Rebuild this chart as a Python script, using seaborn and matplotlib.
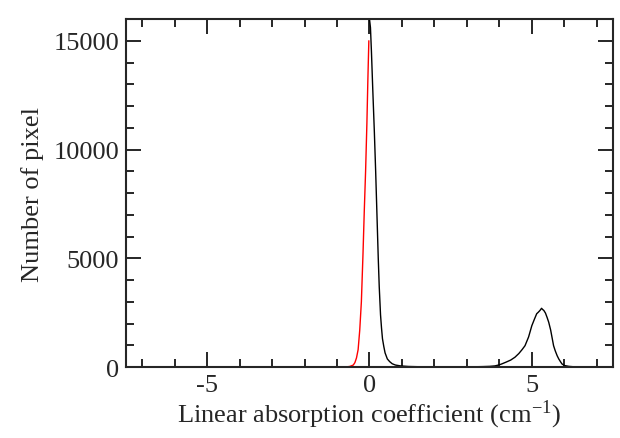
import pandas as pd
import matplotlib.pyplot as plt
import seaborn as sns
from matplotlib.ticker import MultipleLocator

# Values
red_x = [-7.5, -1.0, -0.7, -0.6, -0.5, -0.45, -0.4, -0.35, -0.3, -0.25, -0.2,
         -0.16, -0.12, -0.08, -0.05, -0.02]
red_y = [0, 0, 5, 30, 90, 200, 420, 800, 1700, 3000, 5200,
         7200, 9000, 11200, 13200, 15000]

black_x = [0.0, 0.03, 0.06, 0.1, 0.15, 0.19, 0.23, 0.27, 0.3, 0.34, 0.37, 0.4,
           0.44, 0.48, 0.55, 0.62, 0.7, 0.8, 0.96, 1.2, 1.6, 2.2, 2.8, 3.2, 3.5,
           3.7, 3.86, 4.0, 4.07, 4.2, 4.35, 4.48, 4.6, 4.7, 4.79, 4.9, 5.0, 5.08,
           5.15, 5.2, 5.25, 5.3, 5.33, 5.37, 5.42, 5.47, 5.52, 5.58, 5.63, 5.67,
           5.72, 5.78, 5.83, 5.88, 5.93, 6.0, 6.14, 6.3, 6.6, 7.0, 7.5]
black_y = [16000, 15600, 14500, 12800, 10800, 9000, 7000, 5000, 3700, 2400,
           1800, 1300, 950, 650, 370, 250, 150, 90, 50, 25, 10, 5, 5, 10, 20,
           30, 50, 100, 140, 220, 320, 450, 620, 800, 980, 1380, 1900, 2200,
           2450, 2520, 2600, 2700, 2650, 2600, 2480, 2280, 2060, 1700, 1300,
           980, 750, 520, 370, 250, 140, 70, 30, 10, 5, 0, 0]

x_ticks = [-5, 0, 5]
y_ticks = [0, 5000, 10000, 15000]

red = pd.DataFrame({"x": red_x, "y": red_y})
black = pd.DataFrame({"x": black_x, "y": black_y})

sns.set_style("ticks")
plt.rcParams["font.family"] = ["Liberation Serif", "DejaVu Serif"]
plt.rcParams["mathtext.fontset"] = "stix"

fig = plt.figure(figsize=(6.2, 4.39), dpi=100)
ax = fig.add_axes([0.2032, 0.1617, 0.7855, 0.7927])

sns.lineplot(data=red, x="x", y="y", color="red", linewidth=1.0, ax=ax,
             sort=False, estimator=None)
sns.lineplot(data=black, x="x", y="y", color="black", linewidth=1.0, ax=ax,
             sort=False, estimator=None)

ax.set_xlim(-7.5, 7.5)
ax.set_ylim(0, 16000)
ax.set_xticks(x_ticks)
ax.set_yticks(y_ticks)
ax.set_xticklabels([str(t) for t in x_ticks])
ax.set_yticklabels([str(t) for t in y_ticks])
ax.xaxis.set_minor_locator(MultipleLocator(1))
ax.yaxis.set_minor_locator(MultipleLocator(1000))
ax.tick_params(which="both", direction="in", top=True, right=True,
               width=1.4, labelsize=19, pad=5)
ax.tick_params(which="major", length=11)
ax.tick_params(which="minor", length=6)
for s in ax.spines.values():
    s.set_linewidth(1.5)

ax.set_xlabel("Linear absorption coefficient (cm$^{\\mathregular{-1}}$)",
              fontsize=19, labelpad=1)
ax.set_ylabel("Number of pixel", fontsize=19, labelpad=7)

fig.savefig("out.png", dpi=100)
